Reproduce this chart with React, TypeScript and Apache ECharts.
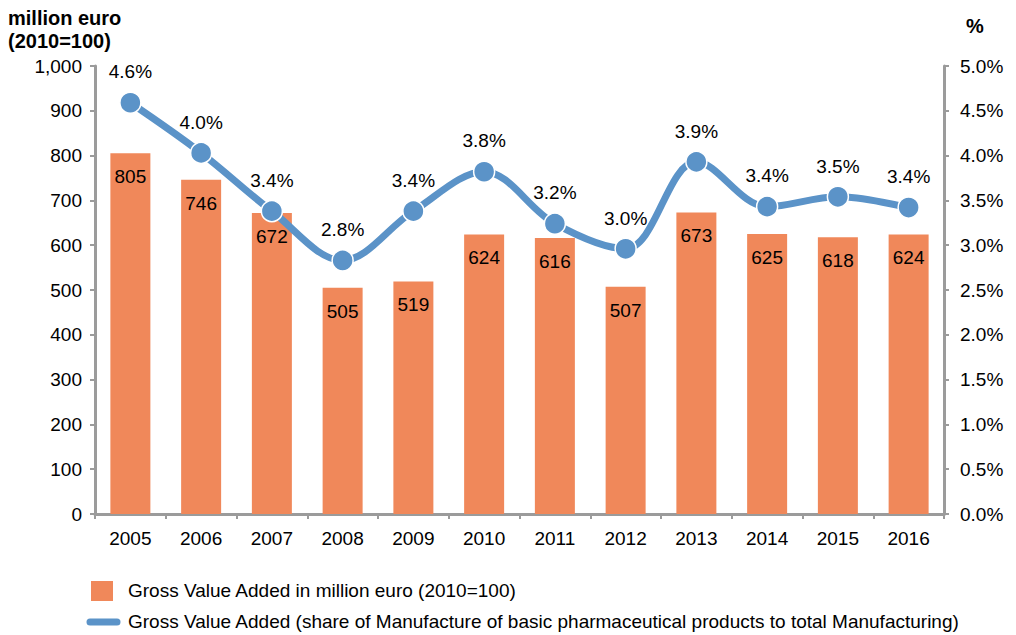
import React, { useEffect, useRef } from "react";
import * as echarts from "echarts";

const years = ["2005", "2006", "2007", "2008", "2009", "2010", "2011", "2012", "2013", "2014", "2015", "2016"];
const gvaValues = [805, 746, 672, 505, 519, 624, 616, 507, 673, 625, 618, 624];
const shareValues = [4.59, 4.03, 3.38, 2.83, 3.38, 3.82, 3.24, 2.96, 3.93, 3.43, 3.54, 3.42];
const barName = "Gross Value Added in million euro (2010=100)";
const lineName = "Gross Value Added (share of Manufacture of basic pharmaceutical products to total Manufacturing)";

const FONT = "'Liberation Sans', Arial, Helvetica, sans-serif";
const BAR_COLOR = "#F0885A";
const LINE_COLOR = "#5B93C8";
const AXIS_COLOR = "#9B9B9B";
const FS = 19;

export default function App() {
  const ref = useRef<HTMLDivElement>(null);
  useEffect(() => {
    document.body.style.margin = "0";
    if (!ref.current) return;
    const chart = echarts.init(ref.current, null, { renderer: "svg" });
    chart.setOption({
      animation: false,
      textStyle: { fontFamily: FONT },
      grid: { left: 95, right: 72, top: 66, bottom: 121 },
      xAxis: {
        type: "category",
        data: years,
        boundaryGap: true,
        axisLine: { lineStyle: { color: AXIS_COLOR, width: 3 } },
        axisTick: { show: true, length: 5, lineStyle: { color: AXIS_COLOR, width: 2 } },
        axisLabel: { color: "#000", fontSize: FS, margin: 15, fontFamily: FONT },
      },
      yAxis: [
        {
          type: "value",
          min: 0,
          max: 1000,
          interval: 100,
          splitLine: { show: false },
          axisLine: { show: true, lineStyle: { color: AXIS_COLOR, width: 3 } },
          axisTick: { show: true, length: 5, lineStyle: { color: AXIS_COLOR, width: 2 } },
          axisLabel: {
            color: "#000",
            fontSize: FS,
            margin: 13,
            fontFamily: FONT,
            formatter: (v: number) => v.toLocaleString("en-US"),
          },
        },
        {
          type: "value",
          min: 0,
          max: 5,
          interval: 0.5,
          position: "right",
          splitLine: { show: false },
          axisLine: { show: true, lineStyle: { color: AXIS_COLOR, width: 3 } },
          axisTick: { show: true, length: 5, lineStyle: { color: AXIS_COLOR, width: 2 } },
          axisLabel: {
            color: "#000",
            fontSize: FS,
            margin: 16,
            fontFamily: FONT,
            formatter: (v: number) => v.toFixed(1) + "%",
          },
        },
      ],
      series: [
        {
          name: barName,
          type: "bar",
          data: gvaValues,
          barWidth: 40,
          itemStyle: { color: BAR_COLOR },
          label: {
            show: true,
            position: "insideTop",
            distance: 14,
            color: "#000",
            fontSize: FS,
            fontFamily: FONT,
          },
        },
        {
          name: lineName,
          type: "line",
          yAxisIndex: 1,
          data: shareValues,
          smooth: 0.35,
          symbol: "circle",
          symbolSize: 21,
          lineStyle: { color: LINE_COLOR, width: 7 },
          itemStyle: { color: LINE_COLOR, borderColor: "#fff", borderWidth: 1.5 },
          label: {
            show: true,
            position: "top",
            distance: 10,
            color: "#000",
            fontSize: FS,
            fontFamily: FONT,
            formatter: (p: any) => p.value.toFixed(1) + "%",
          },
          z: 5,
        },
      ],
      graphic: [
        {
          type: "text",
          left: 8,
          top: 6,
          style: {
            text: "million euro\n(2010=100)",
            font: `bold 20px ${FONT}`,
            fill: "#000",
            lineHeight: 23,
          },
        },
        {
          type: "text",
          left: 966,
          top: 16,
          style: { text: "%", font: `bold 20px ${FONT}`, fill: "#000" },
        },
        {
          type: "rect",
          shape: { x: 91, y: 581, width: 22, height: 20 },
          style: { fill: BAR_COLOR },
        },
        {
          type: "text",
          left: 128,
          top: 581,
          style: { text: barName, font: `19px ${FONT}`, fill: "#000" },
        },
        {
          type: "line",
          shape: { x1: 90, y1: 622, x2: 117, y2: 622 },
          style: { stroke: LINE_COLOR, lineWidth: 7, lineCap: "round" },
        },
        {
          type: "text",
          left: 128,
          top: 612,
          style: { text: lineName, font: `19px ${FONT}`, fill: "#000" },
        },
      ],
    });
    return () => chart.dispose();
  }, []);
  return <div ref={ref} style={{ width: 1016, height: 635 }} />;
}
